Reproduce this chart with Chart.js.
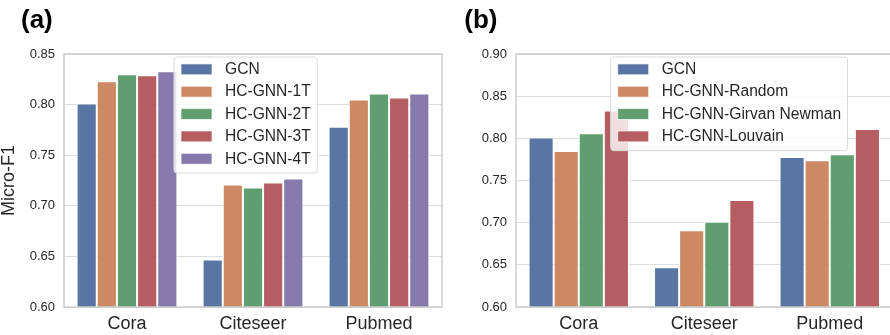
<!DOCTYPE html>
<html>
<head>
<meta charset="utf-8">
<script src="https://cdn.jsdelivr.net/npm/chart.js@4.4.1/dist/chart.umd.min.js"></script>
<style>
html, body { margin: 0; padding: 0; background: #fff; overflow: hidden; width: 890px; height: 335px; }
#wrap { position: relative; width: 890px; height: 335px; overflow: hidden; }
#ca { position: absolute; left: 0; top: 0; }
#cb { position: absolute; left: 445px; top: 0; }
</style>
</head>
<body>
<div id="wrap">
  <canvas id="ca" width="445" height="335"></canvas>
  <canvas id="cb" width="460" height="335"></canvas>
</div>
<script>
var categories = ['Cora', 'Citeseer', 'Pubmed'];

// panel (a)
var seriesA = ['GCN', 'HC-GNN-1T', 'HC-GNN-2T', 'HC-GNN-3T', 'HC-GNN-4T'];
var gcnA  = [0.801, 0.647, 0.778];
var hc1T  = [0.823, 0.721, 0.805];
var hc2T  = [0.830, 0.718, 0.811];
var hc3T  = [0.829, 0.723, 0.807];
var hc4T  = [0.833, 0.727, 0.811];
var yTicksA = [0.60, 0.65, 0.70, 0.75, 0.80, 0.85];

// panel (b)
var seriesB = ['GCN', 'HC-GNN-Random', 'HC-GNN-Girvan Newman', 'HC-GNN-Louvain'];
var gcnB    = [0.801, 0.647, 0.778];
var randomB = [0.785, 0.691, 0.774];
var girvanB = [0.806, 0.701, 0.781];
var louvainB = [0.833, 0.727, 0.811];
var yTicksB = [0.60, 0.65, 0.70, 0.75, 0.80, 0.85, 0.90];

var colors = ['#5875a4', '#cc8963', '#5f9e6e', '#b55d60', '#857aab'];
var txt = '#262626';

Chart.defaults.font.family = '"Liberation Sans", Arial, sans-serif';
Chart.defaults.devicePixelRatio = 1;

// frame around the plot, panel tag and the boxed legend
var frame = {
  id: 'frame',
  afterDatasetsDraw: function(chart) {
    var a = chart.chartArea, ctx = chart.ctx;
    ctx.save();
    ctx.strokeStyle = '#cccccc';
    ctx.lineWidth = 1.5;
    ctx.strokeRect(a.left, a.top, a.right - a.left, a.bottom - a.top);
    ctx.restore();
  },
  afterDraw: function(chart, args, opts) {
    var ctx = chart.ctx;
    var ds = chart.data.datasets;
    ctx.save();
    ctx.fillStyle = '#000';
    ctx.font = 'bold 26px "Liberation Sans", Arial, sans-serif';
    ctx.textBaseline = 'alphabetic';
    ctx.textAlign = 'left';
    ctx.fillText(opts.tag, opts.tagX, 28);

    ctx.font = '15.6px "Liberation Sans", Arial, sans-serif';
    var w = 0;
    for (var i = 0; i < ds.length; i++) {
      w = Math.max(w, ctx.measureText(ds[i].label).width);
    }
    var bx = opts.x, by = 57, step = 22.35;
    var bw = 7 + 31 + 13 + w + 6.5;
    var bh = 12.3 + step * (ds.length - 1) + 14.3;
    ctx.beginPath();
    ctx.roundRect(bx, by, bw, bh, 3);
    ctx.fillStyle = 'rgba(255,255,255,0.8)';
    ctx.fill();
    ctx.strokeStyle = '#d9d9d9';
    ctx.lineWidth = 1;
    ctx.stroke();
    ctx.textBaseline = 'middle';
    for (var j = 0; j < ds.length; j++) {
      var ry = by + 12.3 + j * step;
      ctx.fillStyle = ds[j].backgroundColor;
      ctx.fillRect(bx + 7, ry - 5.4, 31, 10.9);
      ctx.strokeStyle = 'rgba(255,255,255,0.7)';
      ctx.strokeRect(bx + 7, ry - 5.4, 31, 10.9);
      ctx.fillStyle = txt;
      ctx.fillText(ds[j].label, bx + 51, ry + 0.5);
    }
    ctx.restore();
  }
};

function makeSets(names, arrays) {
  var out = [];
  for (var i = 0; i < names.length; i++) {
    out.push({
      label: names[i],
      data: arrays[i],
      backgroundColor: colors[i],
      borderColor: '#ffffff',
      borderWidth: 1,
      categoryPercentage: 0.8,
      barPercentage: 1.0
    });
  }
  return out;
}

function makeChart(el, sets, ticks, yWidth, padRight, yTitle, legendX, tag, tagX) {
  return new Chart(document.getElementById(el), {
    type: 'bar',
    data: { labels: categories, datasets: sets },
    plugins: [frame],
    options: {
      responsive: false,
      animation: false,
      layout: { padding: { top: 54, right: padRight, bottom: 0, left: 0 } },
      plugins: {
        legend: { display: false },
        tooltip: { enabled: false },
        frame: { x: legendX, tag: tag, tagX: tagX }
      },
      scales: {
        x: {
          grid: { display: false, drawTicks: false },
          border: { display: false },
          ticks: { color: txt, font: { size: 18 }, padding: 6 },
          afterFit: function(s) { s.height = 28; }
        },
        y: {
          min: ticks[0],
          max: ticks[ticks.length - 1],
          grid: { color: '#dddddd', lineWidth: 1, drawTicks: false },
          border: { display: false },
          ticks: {
            stepSize: 0.05,
            color: txt,
            font: { size: 13 },
            padding: 9,
            callback: function(v) { return Number(v).toFixed(2); }
          },
          title: {
            display: !!yTitle,
            text: yTitle,
            color: txt,
            font: { size: 18, lineHeight: 1.0 },
            padding: 0
          },
          afterFit: function(s) { s.width = yWidth; }
        }
      }
    }
  });
}

makeChart('ca', makeSets(seriesA, [gcnA, hc1T, hc2T, hc3T, hc4T]), yTicksA, 64, 3, 'Micro-F1', 174, '(a)', 21);
makeChart('cb', makeSets(seriesB, [gcnB, randomB, girvanB, louvainB]), yTicksB, 71, 12.5, '', 165.7, '(b)', 19.3);
</script>
</body>
</html>
